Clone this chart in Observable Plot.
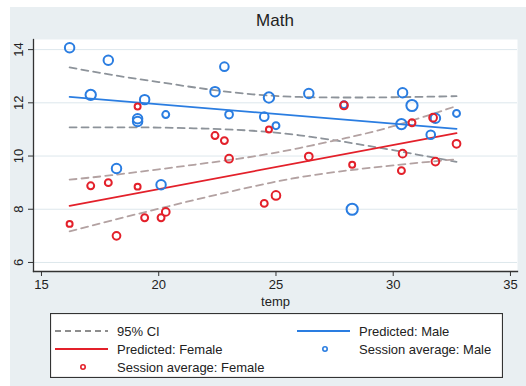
<!DOCTYPE html>
<html><head><meta charset="utf-8">
<script src="https://cdn.jsdelivr.net/npm/d3@7"></script>
<script src="https://cdn.jsdelivr.net/npm/@observablehq/plot@0.6"></script>
<style>
body{margin:0;background:#fff;font-family:"Liberation Sans",Arial,sans-serif;}
#wrap{position:relative;width:526px;height:386px;overflow:hidden;}
#bg{position:absolute;left:10px;top:7px;right:0;bottom:0;background:#e9eff2;}
#title{position:absolute;left:33px;width:484px;top:11px;text-align:center;font-size:17px;color:#222;}
#chart{position:absolute;left:0;top:30px;}
#legend{position:absolute;left:50px;top:313px;}
</style></head><body>
<div id="wrap"><div id="bg"></div><div id="title">Math</div><div id="chart"></div><div id="legend"></div></div>
<script>
// Session averages
const maleTemp  = [16.2,17.1,17.85,19.4,19.1,19.1,20.3,22.4,22.8,23.0,24.7,24.5,25.0,26.4,27.9,30.4,30.8,30.35,31.8,32.7,31.6,18.2,20.1,28.25];
const maleScore = [14.07,12.3,13.6,12.12,11.4,11.3,11.56,12.42,13.36,11.56,12.2,11.48,11.14,12.35,11.93,12.38,11.9,11.2,11.42,11.6,10.8,9.53,8.92,8.0];
const maleN     = [30,36,30,30,30,30,16,30,25,20,36,25,16,30,16,30,42,36,30,16,25,30,30,42];
const femaleTemp  = [19.1,22.4,22.8,24.7,27.9,30.8,31.7,32.7,23.0,26.4,28.25,30.4,31.8,30.35,17.1,17.85,19.1,16.2,18.2,19.4,20.1,20.3,24.5,25.0];
const femaleScore = [11.86,10.77,10.58,11.0,11.9,11.25,11.44,10.46,9.9,9.98,9.67,10.09,9.79,9.45,8.88,9.0,8.85,7.45,7.0,7.68,7.68,7.9,8.22,8.52];
const femaleN     = [12,16,16,12,20,16,20,20,20,20,12,20,20,16,16,16,12,12,20,16,16,20,16,25];
// Predictions
const fitTemp   = [16.2, 32.7];
const maleFit   = [12.22, 11.02];
const femaleFit = [8.13, 10.86];
// 95% CI
const ciTemp   = [16.2,18,20,22,24,26,28,30,32.7];
const maleLo   = [11.08,11.08,11.07,11.03,10.95,10.78,10.52,10.22,9.78];
const maleHi   = [13.33,13.05,12.78,12.52,12.32,12.22,12.2,12.21,12.25];
const femaleLo = [7.17,7.58,8.02,8.45,8.85,9.2,9.45,9.65,9.88];
const femaleHi = [9.11,9.28,9.5,9.73,9.98,10.3,10.68,11.12,11.88];
// Ticks
const xTicks = [15,20,25,30,35];
const yTicks = [6,8,10,12,14];

const BLUE = "#2a7de1", RED = "#e3202a", CIM = "#8d939a", CIF = "#b3a2a2";
const pts = (t, s, n) => t.map((d, i) => ({t: d, s: s[i], n: n[i]}));
const line = (t, s) => t.map((d, i) => ({t: d, s: s[i]}));

const chart = Plot.plot({
  width: 526, height: 280,
  marginLeft: 33, marginRight: 9, marginTop: 9, marginBottom: 39,
  style: {background: "transparent", fontFamily: "Liberation Sans, Arial, sans-serif", fontSize: "13px", color: "#222"},
  x: {domain: [14.66, 35.3]},
  y: {domain: [5.66, 14.38]},
  r: {type: "sqrt", domain: [0, 42], range: [0, 5.6]},
  marks: [
    Plot.frame({fill: "white", stroke: "none"}),
    Plot.gridY(yTicks, {stroke: "#dde7ec", strokeOpacity: 1, strokeWidth: 1}),
    Plot.line(line(ciTemp, maleHi), {x: "t", y: "s", stroke: CIM, strokeWidth: 1.8, strokeDasharray: "7,5", curve: "natural"}),
    Plot.line(line(ciTemp, maleLo), {x: "t", y: "s", stroke: CIM, strokeWidth: 1.8, strokeDasharray: "7,5", curve: "natural"}),
    Plot.line(line(ciTemp, femaleHi), {x: "t", y: "s", stroke: CIF, strokeWidth: 1.8, strokeDasharray: "7,5", curve: "natural"}),
    Plot.line(line(ciTemp, femaleLo), {x: "t", y: "s", stroke: CIF, strokeWidth: 1.8, strokeDasharray: "7,5", curve: "natural"}),
    Plot.line(line(fitTemp, maleFit), {x: "t", y: "s", stroke: BLUE, strokeWidth: 1.8}),
    Plot.line(line(fitTemp, femaleFit), {x: "t", y: "s", stroke: RED, strokeWidth: 1.8}),
    Plot.dot(pts(maleTemp, maleScore, maleN), {x: "t", y: "s", r: "n", stroke: BLUE, strokeWidth: 2, fill: "none"}),
    Plot.dot(pts(femaleTemp, femaleScore, femaleN), {x: "t", y: "s", r: "n", stroke: RED, strokeWidth: 2, fill: "none"}),
    Plot.frame({anchor: "left", stroke: "#333", strokeWidth: 1.3}),
    Plot.frame({anchor: "bottom", stroke: "#333", strokeWidth: 1.3}),
    Plot.axisY({ticks: yTicks, tickSize: 5, tickFormat: () => "", label: null, stroke: "#333"}),
    Plot.text(yTicks, {y: d => d, frameAnchor: "left", dx: -15, rotate: -90, textAnchor: "middle", fontSize: 13, fill: "#222"}),
    Plot.axisX({ticks: xTicks, tickSize: 5, tickPadding: 3, fontSize: 13, label: "temp", labelAnchor: "center", labelOffset: 34, labelArrow: "none", stroke: "#333", color: "#222"})
  ]
});
document.getElementById("chart").appendChild(chart);

// Legend
const ns = "http://www.w3.org/2000/svg";
const lg = d3.select("#legend").append("svg").attr("width", 453).attr("height", 65);
lg.append("rect").attr("x", 0.5).attr("y", 0.5).attr("width", 452).attr("height", 64).attr("fill", "white").attr("stroke", "#333").attr("stroke-width", 1.2);
const items = [
  {x: 5, y: 19, kind: "dash", color: "#8d8d8d", label: "95% CI"},
  {x: 247, y: 19, kind: "line", color: BLUE, label: "Predicted: Male"},
  {x: 5, y: 37, kind: "line", color: RED, label: "Predicted: Female"},
  {x: 247, y: 37, kind: "dot", color: BLUE, label: "Session average: Male"},
  {x: 5, y: 55, kind: "dot", color: RED, label: "Session average: Female"}
];
for (const it of items) {
  const g = lg.append("g").attr("transform", `translate(${it.x},${it.y})`);
  if (it.kind === "dot") {
    g.append("circle").attr("cx", 28).attr("cy", -1).attr("r", 2.2).attr("fill", "none").attr("stroke", it.color).attr("stroke-width", 1.6);
  } else {
    g.append("line").attr("x1", 0).attr("x2", 53).attr("y1", -1).attr("y2", -1).attr("stroke", it.color).attr("stroke-width", 1.8)
      .attr("stroke-dasharray", it.kind === "dash" ? "6,4" : null);
  }
  g.append("text").attr("x", 62).attr("y", 4).attr("font-size", 13).attr("fill", "#222")
    .attr("font-family", "Liberation Sans, Arial, sans-serif").text(it.label);
}
</script>
</body></html>
